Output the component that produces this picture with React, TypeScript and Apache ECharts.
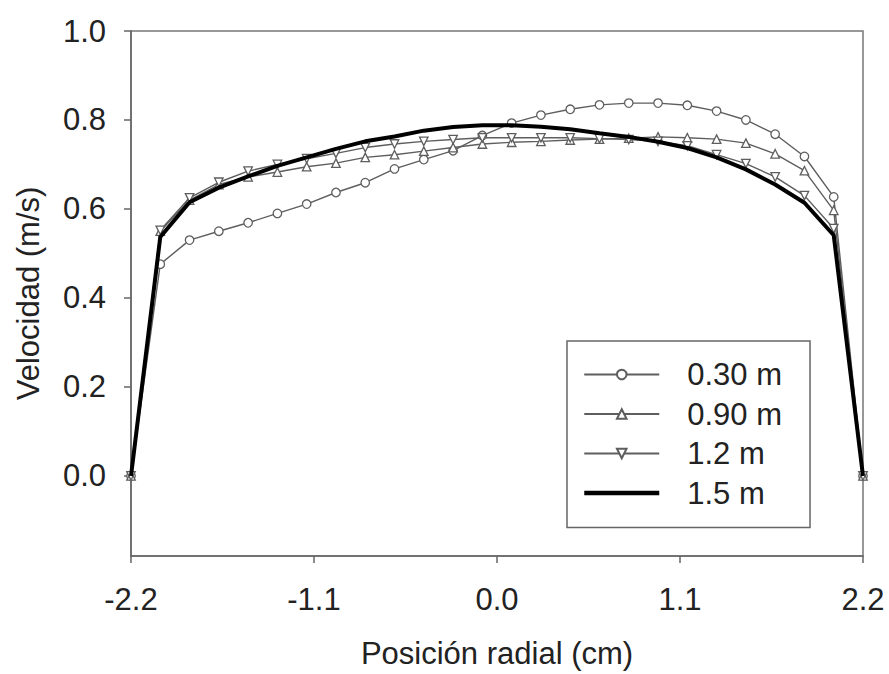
import React, { useEffect, useRef } from "react";
import * as echarts from "echarts";

const positions = [
  -2.2, -2.024, -1.848, -1.672, -1.496, -1.32, -1.144, -0.968, -0.792, -0.616, -0.44, -0.264, -0.088,
  0.088, 0.264, 0.44, 0.616, 0.792, 0.968, 1.144, 1.32, 1.496, 1.672, 1.848, 2.024, 2.2,
];

const seriesNames = ["0.30 m", "0.90 m", "1.2 m", "1.5 m"];

const v030 = [
  0, 0.476, 0.53, 0.55, 0.569, 0.59, 0.611, 0.637, 0.659, 0.69, 0.711, 0.731, 0.765,
  0.793, 0.811, 0.824, 0.834, 0.838, 0.838, 0.833, 0.82, 0.8, 0.768, 0.718, 0.627, 0,
];
const v090 = [
  0, 0.55, 0.62, 0.655, 0.672, 0.683, 0.695, 0.703, 0.716, 0.722, 0.73, 0.738, 0.746,
  0.75, 0.752, 0.755, 0.757, 0.759, 0.762, 0.76, 0.757, 0.748, 0.724, 0.686, 0.597, 0,
];
const v120 = [
  0, 0.552, 0.625, 0.66, 0.685, 0.7, 0.713, 0.725, 0.738, 0.746, 0.752, 0.756, 0.76,
  0.76, 0.76, 0.76, 0.758, 0.756, 0.752, 0.742, 0.722, 0.702, 0.672, 0.63, 0.556, 0,
];
const v150 = [
  0, 0.537, 0.615, 0.648, 0.673, 0.697, 0.716, 0.735, 0.752, 0.763, 0.776, 0.784, 0.788,
  0.788, 0.785, 0.779, 0.77, 0.762, 0.751, 0.737, 0.716, 0.689, 0.655, 0.614, 0.541, 0,
];

const yTicks = [0, 0.2, 0.4, 0.6, 0.8, 1.0];

const FONT = "'Liberation Sans', Arial, sans-serif";
const GRAY = "#5e5e5e";
const FS = 31;

function pairs(vals: number[]) {
  return positions.map((x, i) => [x, vals[i]]);
}

export default function App() {
  const ref = useRef<HTMLDivElement>(null);
  useEffect(() => {
    if (!ref.current) return;
    const chart = echarts.init(ref.current, null, { renderer: "svg" });
    const thin = (name: string, vals: number[], symbol: string, rotate = 0) => ({
      name,
      type: "line",
      data: pairs(vals),
      symbol,
      symbolSize: 8.5,
      symbolRotate: rotate,
      showAllSymbol: true,
      lineStyle: { color: GRAY, width: 1.4 },
      itemStyle: { color: "#ffffff", borderColor: GRAY, borderWidth: 1.3 },
      z: 3,
    });
    chart.setOption({
      animation: false,
      backgroundColor: "#ffffff",
      grid: {
        left: 131,
        top: 31,
        right: 26,
        bottom: 113,
        show: true,
        borderColor: "#777777",
        borderWidth: 1.5,
        backgroundColor: "transparent",
      },
      xAxis: {
        type: "value",
        min: -2.2,
        max: 2.2,
        interval: 1.1,
        name: "Posición radial (cm)",
        nameLocation: "middle",
        nameGap: 82,
        nameTextStyle: { fontFamily: FONT, fontSize: FS, color: "#222" },
        axisLine: { show: true, onZero: false, lineStyle: { color: "#666", width: 1.5 } },
        axisTick: { show: true, inside: false, length: 7, lineStyle: { color: "#666", width: 1.5 } },
        axisLabel: {
          fontFamily: FONT,
          fontSize: FS,
          color: "#222",
          margin: 28,
          formatter: (v: number) => v.toFixed(1),
        },
        splitLine: { show: false },
      },
      yAxis: {
        type: "value",
        min: -0.18,
        max: 1.0,
        name: "Velocidad (m/s)",
        nameLocation: "middle",
        nameGap: 87,
        nameRotate: 90,
        nameTextStyle: { fontFamily: FONT, fontSize: FS, color: "#222" },
        axisLine: { show: true, onZero: false, lineStyle: { color: "#666", width: 1.5 } },
        axisTick: {
          show: true,
          inside: false,
          length: 7,
          customValues: yTicks,
          lineStyle: { color: "#666", width: 1.5 },
        },
        axisLabel: {
          fontFamily: FONT,
          fontSize: FS,
          color: "#222",
          margin: 25,
          customValues: yTicks,
          formatter: (v: number) => v.toFixed(1),
        },
        splitLine: { show: false },
      },
      legend: {
        orient: "vertical",
        left: 567,
        top: 341,
        padding: [17, 28, 18, 15],
        itemWidth: 75,
        itemHeight: 12,
        itemGap: 6.5,
        backgroundColor: "#ffffff",
        borderColor: "#666",
        borderWidth: 1.5,
        textStyle: {
          fontFamily: FONT,
          fontSize: FS,
          color: "#222",
          lineHeight: 33,
          padding: [0, 0, 0, 23],
        },
        data: [
          seriesNames[0],
          seriesNames[1],
          seriesNames[2],
          {
            name: seriesNames[3],
            itemStyle: { opacity: 0 },
            lineStyle: { width: 4.5, color: "#000000" },
          },
        ],
      },
      series: [
        thin(seriesNames[0], v030, "circle"),
        thin(seriesNames[1], v090, "triangle"),
        thin(seriesNames[2], v120, "triangle", 180),
        {
          name: seriesNames[3],
          type: "line",
          data: pairs(v150),
          symbol: "none",
          lineStyle: { color: "#000000", width: 4 },
          itemStyle: { color: "#000000" },
          z: 4,
        },
      ],
    });
    return () => chart.dispose();
  }, []);
  return (
    <div
      ref={ref}
      style={{ position: "absolute", left: 0, top: 0, width: 889, height: 674 }}
    />
  );
}
